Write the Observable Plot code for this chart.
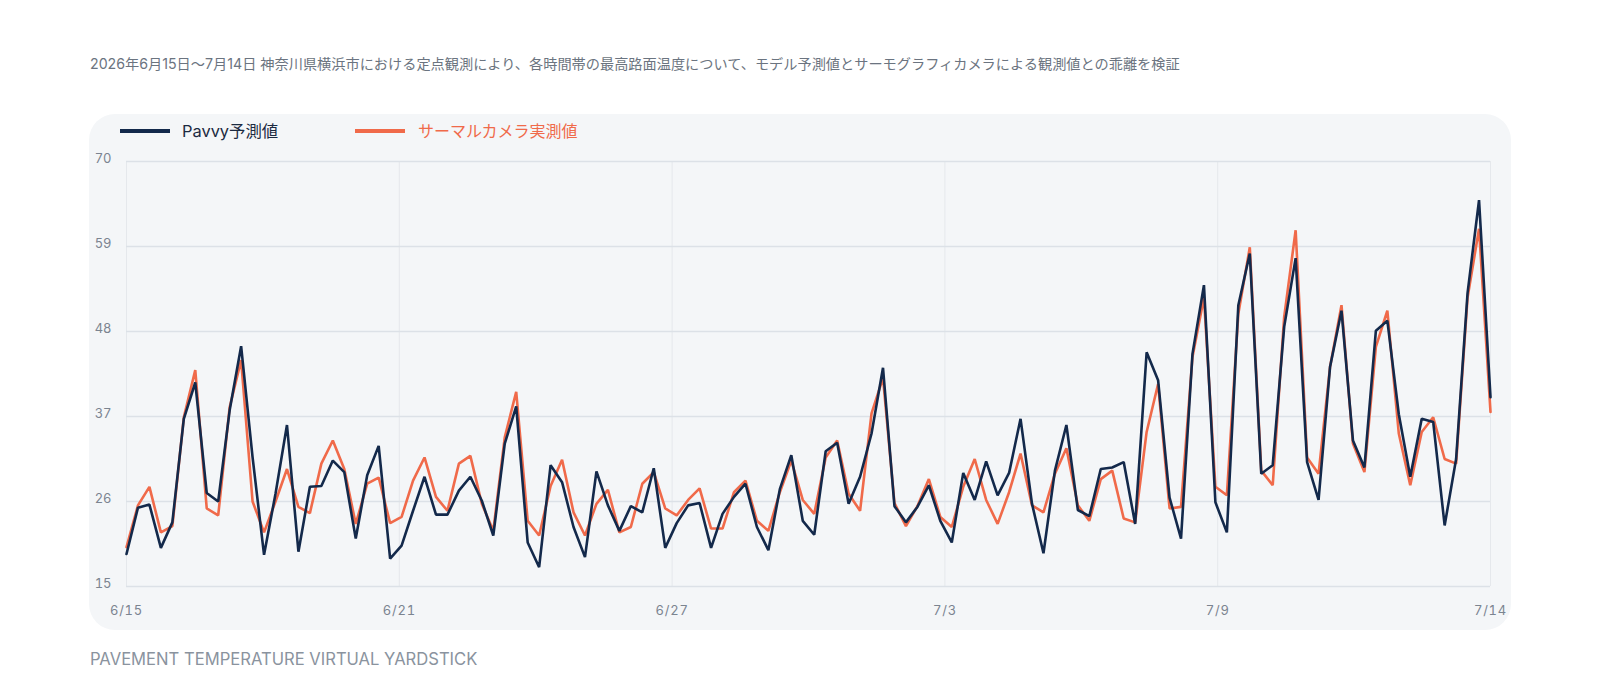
<!DOCTYPE html>
<html><head><meta charset="utf-8">
<script src="https://cdn.jsdelivr.net/npm/d3@7"></script>
<script src="https://cdn.jsdelivr.net/npm/@observablehq/plot@0.6"></script>
<style>
body{margin:0;background:#fff;width:1600px;height:700px;position:relative;overflow:hidden;font-family:Inter,"Noto Sans CJK JP",sans-serif;}
#sub{position:absolute;left:90px;top:54px;font-size:14.2px;line-height:20px;color:#6b7480;white-space:nowrap;}
#panel{position:absolute;left:89px;top:114px;width:1422px;height:516px;border-radius:26px;background:#f4f6f8;}
.sw{position:absolute;top:129px;height:4px;width:50px;}
.lab{position:absolute;top:121px;font-size:16px;line-height:20px;white-space:nowrap;}
#chart{position:absolute;left:0;top:140px;}
#cap{position:absolute;left:90px;top:649px;font-size:16.6px;line-height:20px;color:#8a939e;white-space:nowrap;}
g[aria-label="x-axis tick label"] text{letter-spacing:0.8px;}
</style>
</head><body>
<div id="sub">2026年6月15日〜7月14日 神奈川県横浜市における定点観測により、各時間帯の最高路面温度について、モデル予測値とサーモグラフィカメラによる観測値との乖離を検証</div>
<div id="panel"></div>
<div class="sw" style="left:120px;background:#13294b"></div>
<div class="lab" style="left:182px;color:#1b2a41;font-size:16.4px">Pavvy予測値</div>
<div class="sw" style="left:355px;background:#f06a4a"></div>
<div class="lab" style="left:418px;color:#f06a4a">サーマルカメラ実測値</div>
<div id="chart"></div>
<div id="cap">PAVEMENT TEMPERATURE VIRTUAL YARDSTICK</div>
<script>
// Series (6-hourly observations, 6/15 → 7/14)
const pavvy = [
19.2,25.2,25.6,20.0,23.3,36.7,41.4,27.1,26.0,37.8,
46.1,31.7,19.1,27.0,35.9,19.5,27.9,28.0,31.3,29.8,
21.2,29.4,33.2,18.6,20.3,24.8,29.2,24.3,24.3,27.4,
29.2,26.1,21.6,33.5,38.3,20.7,17.5,30.7,28.5,22.7,
18.8,29.9,25.5,22.2,25.4,24.6,30.3,20.0,23.2,25.5,
25.8,20.0,24.4,26.6,28.3,22.7,19.7,27.6,32.0,23.5,
21.7,32.5,33.6,25.7,29.2,34.8,43.3,25.4,23.3,25.3,
28.1,23.5,20.7,29.7,26.2,31.2,26.8,29.7,36.7,25.7,
19.3,30.0,35.9,24.9,24.1,30.2,30.4,31.1,23.1,45.3,
41.7,26.5,21.2,45.1,54.0,25.9,22.0,51.4,58.1,29.6,
30.7,48.6,57.5,31.1,26.2,43.4,50.7,33.9,30.4,48.1,
49.4,37.3,29.2,36.7,36.3,22.9,31.5,53.0,65.0,39.5];
const thermal = [
20.1,25.5,27.9,22.0,22.8,36.9,43.0,25.1,24.2,38.2,
44.3,26.0,22.0,26.0,30.2,25.3,24.5,30.9,33.9,30.2,
23.1,28.3,29.1,23.2,24.0,28.7,31.7,26.6,24.8,30.9,
31.9,25.7,22.2,34.3,40.2,23.5,21.6,28.0,31.4,24.6,
21.6,25.7,27.5,22.0,22.7,28.3,29.8,25.1,24.2,26.2,
27.7,22.5,22.5,27.2,28.7,23.5,22.2,27.2,31.3,26.2,
24.4,31.7,33.9,27.0,24.8,37.4,42.0,25.8,22.8,25.4,
28.9,24.0,22.7,27.9,31.5,26.2,23.1,27.2,32.2,25.5,
24.6,29.6,32.9,25.5,23.5,28.9,30.0,23.8,23.3,35.0,
41.2,25.1,25.3,44.7,52.4,27.9,26.8,50.3,58.9,30.0,
28.1,49.9,61.1,31.7,29.6,43.4,51.4,33.5,29.8,46.0,
50.7,34.8,28.1,35.0,36.9,31.5,30.9,52.4,61.3,37.6];
const xTickLabels = ["6/15","6/21","6/27","7/3","7/9","7/14"];
const yTicks = [15,26,37,48,59,70];

const n = pavvy.length;
const rows = pavvy.map((v,i)=>({i, pavvy:v, thermal:thermal[i]}));
const tickPos = xTickLabels.map((_,k)=>k*(n-1)/(xTickLabels.length-1));
const labMap = new Map(tickPos.map((p,k)=>[p, xTickLabels[k]]));

const chart = Plot.plot({
  width:1600, height:490,
  marginLeft:126, marginRight:110, marginTop:21, marginBottom:44,
  style:{background:"transparent", fontFamily:"Inter, 'Noto Sans CJK JP', sans-serif", fontSize:"13px"},
  x:{domain:[0,n-1], label:null},
  y:{domain:[15,70], label:null},
  marks:[
    Plot.ruleX(tickPos, {stroke:"#e5e8ec", strokeWidth:1}),
    Plot.ruleY(yTicks, {stroke:"#dce1e7", strokeWidth:1.6}),
    Plot.axisY(yTicks, {anchor:"left", tickSize:0, tickPadding:15, dy:-3, fill:"#7b8490", fontSize:13, label:null}),
    Plot.axisX(tickPos, {anchor:"bottom", tickSize:0, tickPadding:19, tickFormat:d=>labMap.get(d), fill:"#7b8490", fontSize:13, label:null}),
    Plot.line(rows, {x:"i", y:"thermal", stroke:"#f06a4a", strokeWidth:2.6, strokeLinejoin:"miter"}),
    Plot.line(rows, {x:"i", y:"pavvy", stroke:"#13294b", strokeWidth:2.6, strokeLinejoin:"miter"})
  ]
});
document.getElementById("chart").appendChild(chart);
</script>
</body></html>
